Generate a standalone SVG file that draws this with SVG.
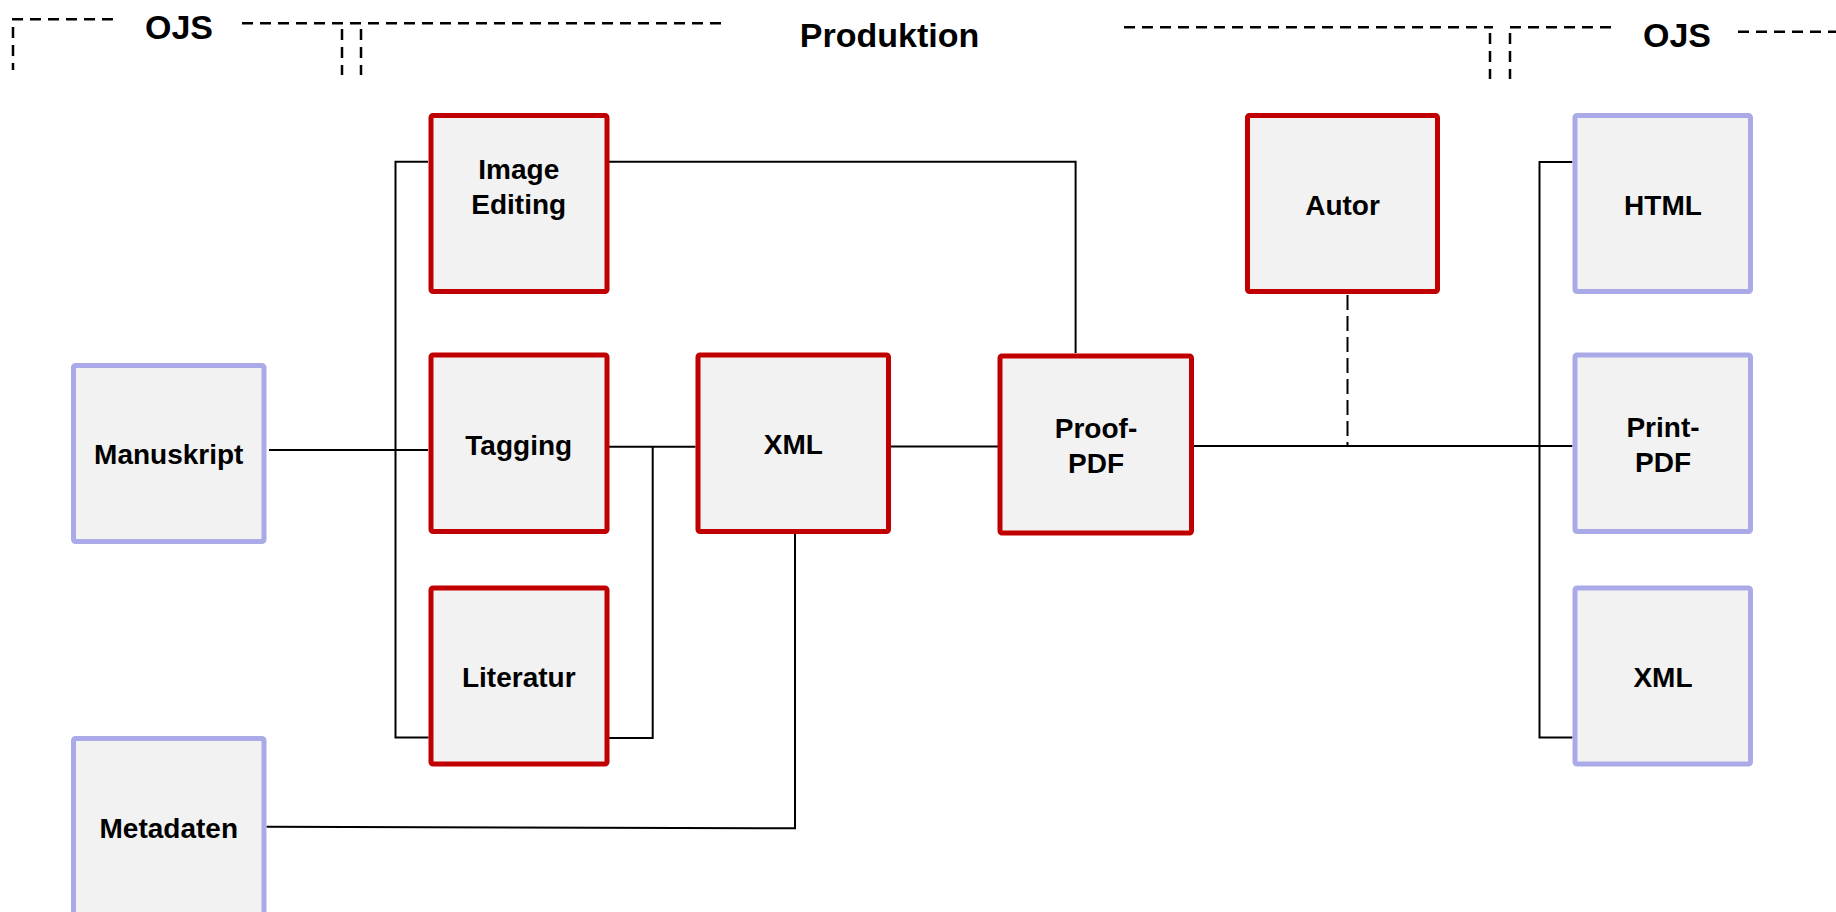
<svg xmlns="http://www.w3.org/2000/svg" width="1836" height="912" viewBox="0 0 1836 912">
<style>
.red{fill:#f2f2f2;stroke:#c00000;stroke-width:5}
.blue{fill:#f2f2f2;stroke:#aaaae8;stroke-width:5}
.lbl{font-family:"Liberation Sans",Arial,sans-serif;font-weight:bold;font-size:28px;fill:#000;text-anchor:middle}
.hdr{font-family:"Liberation Sans",Arial,sans-serif;font-weight:bold;font-size:34px;fill:#000;text-anchor:middle}
.ln{fill:none;stroke:#000;stroke-width:2}
.dash{fill:none;stroke:#000;stroke-width:2.5;stroke-dasharray:11 7}
.adash{fill:none;stroke:#000;stroke-width:2;stroke-dasharray:15 6}
</style>
<rect width="1836" height="912" fill="#fff"/>
<g id="headers">
<path class="dash" d="M12 19.3H119M13 27V70"/>
<path class="dash" d="M242 23.3H725M342 29V75M361 29V75"/>
<path class="dash" d="M1124 27.3H1493M1490 33V79M1510 33V79M1510 27.3H1614"/>
<path class="dash" d="M1738 31.7H1836"/>
<text class="hdr" x="179" y="38.5">OJS</text>
<text class="hdr" x="889.5" y="47">Produktion</text>
<text class="hdr" x="1677" y="47">OJS</text>
</g>
<g id="connectors">
<path class="ln" d="M269 450H428"/>
<path class="ln" d="M428 161.7H395.5V737.5H428.5"/>
<path class="ln" d="M609 446.7H695.5"/>
<path class="ln" d="M609 738H652.7V446.7"/>
<path class="ln" d="M609 161.7H1075.6V353"/>
<path class="ln" d="M891 446.5H998"/>
<path class="ln" d="M1194 446H1572.5"/>
<path class="ln" d="M1572.5 162H1539.5V737.5H1572.5"/>
<path class="adash" d="M1347.5 295V446"/>
<path class="ln" d="M795 534V828.3L266.5 826.7"/>
</g>
<g id="n-image-editing"><rect class="red" x="431" y="115.5" width="176" height="176" rx="2"/><text class="lbl" x="518.75" y="179">Image</text><text class="lbl" x="518.75" y="214">Editing</text></g>
<g id="n-tagging"><rect class="red" x="431" y="355" width="176" height="176.5" rx="2"/><text class="lbl" x="518.75" y="455">Tagging</text></g>
<g id="n-literatur"><rect class="red" x="431" y="588" width="176" height="176" rx="2"/><text class="lbl" x="518.75" y="687">Literatur</text></g>
<g id="n-xml-mid"><rect class="red" x="698" y="355" width="190.5" height="176.5" rx="2"/><text class="lbl" x="793.3" y="454">XML</text></g>
<g id="n-proof-pdf"><rect class="red" x="1000" y="356" width="191.5" height="177" rx="2"/><text class="lbl" x="1096" y="438">Proof-</text><text class="lbl" x="1096" y="473">PDF</text></g>
<g id="n-autor"><rect class="red" x="1247.5" y="115.5" width="190" height="176" rx="2"/><text class="lbl" x="1342.5" y="215">Autor</text></g>
<g id="n-html"><rect class="blue" x="1575" y="115.5" width="175.5" height="176" rx="2"/><text class="lbl" x="1663" y="215">HTML</text></g>
<g id="n-print-pdf"><rect class="blue" x="1575" y="355" width="175.5" height="176.5" rx="2"/><text class="lbl" x="1663" y="437">Print-</text><text class="lbl" x="1663" y="472">PDF</text></g>
<g id="n-xml-right"><rect class="blue" x="1575" y="588" width="175.5" height="176" rx="2"/><text class="lbl" x="1663" y="687">XML</text></g>
<g id="n-manuskript"><rect class="blue" x="73.5" y="365.5" width="190.5" height="176" rx="2"/><text class="lbl" x="168.75" y="464">Manuskript</text></g>
<g id="n-metadaten"><rect class="blue" x="73.5" y="738.5" width="190.5" height="190" rx="2"/><text class="lbl" x="168.75" y="838">Metadaten</text></g>
</svg>
